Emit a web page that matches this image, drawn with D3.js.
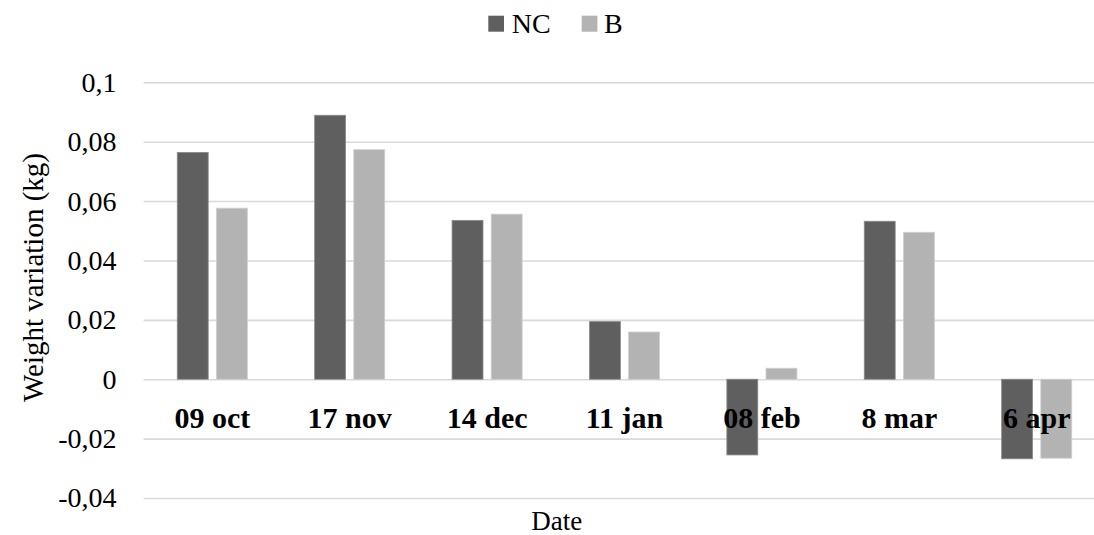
<!DOCTYPE html>
<html>
<head>
<meta charset="utf-8">
<script src="https://cdn.jsdelivr.net/npm/d3@7"></script>
<style>
  html, body { margin: 0; padding: 0; background: #fff; }
  svg { display: block; }
  svg text { font-family: "Liberation Serif", "Times New Roman", Tinos, serif; fill: #000; }
</style>
</head>
<body>
<svg id="chart" width="1094" height="535"></svg>
<script>
const categories = ["09 oct", "17 nov", "14 dec", "11 jan", "08 feb", "8 mar", "6 apr"];
const seriesNames = ["NC", "B"];
const ncValues = [0.0764, 0.0889, 0.0535, 0.0194, -0.0255, 0.0532, -0.0268];
const bValues  = [0.0576, 0.0773, 0.0556, 0.0159, 0.0037, 0.0495, -0.0266];
const yTicks = [-0.04, -0.02, 0, 0.02, 0.04, 0.06, 0.08, 0.1];
const yTickLabels = ["-0,04", "-0,02", "0", "0,02", "0,04", "0,06", "0,08", "0,1"];
const colors = { NC: "#5f5f5f", B: "#b3b3b3" };

const svg = d3.select("#chart");
const W = 1094;
const plotLeft = 143.6, plotRight = 1105.4;

const y = d3.scaleLinear().domain([-0.04, 0.1]).range([498, 82.3]);
const x0 = d3.scaleBand().domain(categories).range([plotLeft, plotRight])
  .paddingInner(0.49).paddingOuter(0.245);
const x1 = d3.scaleBand().domain(seriesNames).range([0, x0.bandwidth()]).paddingInner(0.21);

// gridlines + tick labels
const yAxis = d3.axisLeft(y)
  .tickValues(yTicks)
  .tickFormat((d, i) => yTickLabels[i])
  .tickSize(-(W - plotLeft))
  .tickPadding(27);
const gy = svg.append("g").attr("transform", `translate(${plotLeft},0)`).call(yAxis)
  .attr("font-family", null);
gy.select(".domain").remove();
gy.selectAll(".tick line").attr("stroke", "#d9d9d9").attr("stroke-width", 1.6);
gy.selectAll(".tick text").attr("font-size", 28).attr("fill", "#000");

// bars
const data = categories.map((c, i) => ({ cat: c, vals: [
  { key: "NC", v: ncValues[i] }, { key: "B", v: bValues[i] }
]}));
const groups = svg.append("g").selectAll("g").data(data).join("g")
  .attr("transform", d => `translate(${x0(d.cat)},0)`);
groups.selectAll("rect").data(d => d.vals).join("rect")
  .attr("x", d => x1(d.key))
  .attr("width", x1.bandwidth())
  .attr("y", d => y(Math.max(0, d.v)))
  .attr("height", d => Math.abs(y(d.v) - y(0)))
  .attr("fill", d => colors[d.key])
  .attr("stroke", d => d.key === "NC" ? "#8a8a8a" : "#cfcfcf")
  .attr("stroke-width", 0.8);

// category labels
const xAxis = d3.axisBottom(x0).tickSize(0).tickPadding(0);
const gx = svg.append("g").attr("transform", `translate(0,428)`).call(xAxis)
  .attr("font-family", null);
gx.select(".domain").remove();
gx.selectAll(".tick text").attr("y", 0).attr("dy", 0)
  .attr("font-size", 30).attr("font-weight", "bold").attr("fill", "#000");

// axis titles
svg.append("text")
  .attr("transform", "translate(43,277.5) rotate(-90)")
  .attr("text-anchor", "middle")
  .attr("font-size", 29)
  .text("Weight variation (kg)");
svg.append("text")
  .attr("x", 556.7).attr("y", 530)
  .attr("text-anchor", "middle")
  .attr("font-size", 27)
  .text("Date");

// legend
const legendItems = [
  { key: "NC", sx: 488.3, tx: 511.7 },
  { key: "B", sx: 581.7, tx: 604 }
];
const lg = svg.append("g");
lg.selectAll("rect").data(legendItems).join("rect")
  .attr("x", d => d.sx).attr("y", 15.7).attr("width", 15.7).attr("height", 16)
  .attr("fill", d => colors[d.key]);
lg.selectAll("text").data(legendItems).join("text")
  .attr("x", d => d.tx).attr("y", 33.3)
  .attr("font-size", 28)
  .text(d => d.key);
</script>
</body>
</html>
